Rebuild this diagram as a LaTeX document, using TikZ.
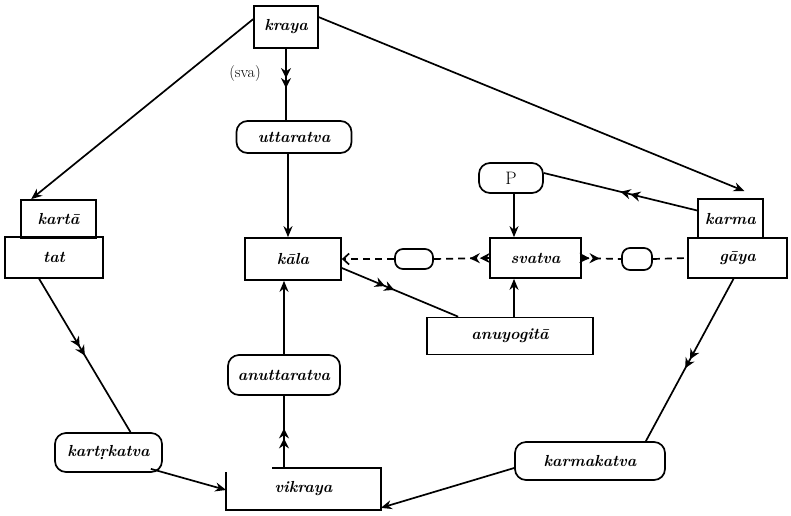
\documentclass[tikz,border=0pt]{standalone}
\usetikzlibrary{arrows.meta,decorations.markings,calc}
\begin{document}
\begin{tikzpicture}[x=1pt,y=-1pt,
  box/.style={draw, line width=1.7pt, inner sep=0pt, font=\fontsize{16}{18}\selectfont\bfseries\itshape},
  rbox/.style={box, rounded corners=11pt},
  pill/.style={draw, line width=1.7pt, rounded corners=8pt, inner sep=0pt},
  conn/.style={line width=1.7pt},
  tipend/.style={-{Stealth[length=11pt,width=9pt]}},
  dbl/.style={postaction={decorate},decoration={markings, mark=at position #1 with {\arrow{Stealth[length=10pt,width=10pt] Stealth[length=10pt,width=10pt]}}}},
  dsh/.style={line width=1.7pt, dash pattern=on 7pt off 5pt}
]
\useasboundingbox (0,0) rectangle (791,515);

% nodes
\node[box, minimum width=64pt, minimum height=42pt] (kraya) at (286,27) {kraya};
\node[font=\fontsize{16}{18}\selectfont] (sva) at (245,74) {(sva)};
\node[rbox, minimum width=115pt, minimum height=32pt] (uttara) at (294,137) {uttaratva};
\node[box, minimum width=75pt, minimum height=38pt] (karta) at (58.5,219) {kart\={a}};
\node[box, minimum width=98pt, minimum height=41pt] (tat) at (54,257.5) {tat};
\node[box, minimum width=96pt, minimum height=42pt] (kala) at (293,259) {k\={a}la};
\node[rbox, minimum width=64pt, minimum height=30pt, font=\fontsize{18}{20}\selectfont] (P) at (511,178) {P};
\node[box, minimum width=91pt, minimum height=40pt] (svatva) at (535.5,258) {svatva};
\node[pill, minimum width=38pt, minimum height=20pt] (pilla) at (414,259) {};
\node[pill, minimum width=30pt, minimum height=22pt] (pillb) at (637,259) {};
\node[box, minimum width=65pt, minimum height=39pt] (karma) at (730.5,218.5) {karma};
\node[box, minimum width=99pt, minimum height=40pt] (gaya) at (737.5,258) {g\={a}ya};
\node[box, minimum width=166pt, minimum height=37pt] (anuyo) at (510,336) {anuyogit\={a}};
\node[rbox, minimum width=112pt, minimum height=40pt] (anutt) at (284,375) {anuttaratva};
\node[box, draw=none, minimum width=153pt, minimum height=40pt] (vikraya) at (303.5,489) {vikraya};
\node[rbox, minimum width=107pt, minimum height=39pt] (kartrk) at (108.5,452.5) {kart\d{r}katva};
\node[rbox, minimum width=150pt, minimum height=38pt] (karmak) at (590,461) {karmakatva};

% vikraya open frame
\draw[conn] ($(vikraya.north west)+(46,0)$) -- (vikraya.north east) -- (vikraya.south east)
  -- (vikraya.south west) -- ($(vikraya.north west)+(0,4)$);

% connectors
\draw[conn, tipend] ($(kraya.north west)+(0,14)$) -- ($(karta.north west)+(11,0)$);
\draw[conn, dbl=0.55] (kraya.south) -- (kraya.south |- uttara.north);
\draw[conn, tipend] ($(uttara.south)+(-6,0)$) -- ($(kala.north)+(-5,0)$);
\draw[conn, tipend] ($(kraya.north east)+(0,12)$) -- ($(karma.north)+(14,-7)$);
\draw[conn, dbl=0.5] ($(karma.west)+(0,-8)$) -- ($(P.east)+(0,-5)$);
\draw[conn, tipend] ($(P.south)+(3,0)$) -- ($(svatva.north)+(-21.5,0)$);
\draw[conn, tipend] ($(anuyo.north)+(4,0)$) -- ($(svatva.south)+(-21.5,0)$);
\draw[conn, dbl=0.45] ($(kala.east)+(0,9)$) -- ($(anuyo.north west)+(32,0)$);
\draw[dsh, dbl=0.35] (svatva.west) -- (pilla.east);
\draw[dsh, -{Straight Barb[length=6pt,width=11pt]}] (pilla.west) -- (kala.east);
\draw[dsh, dbl=0.45] (svatva.east) -- (pillb.west);
\draw[dsh] (pillb.east) -- (gaya.west);
\draw[conn, dbl=0.5] ($(tat.south west)+(35,0)$) -- ($(kartrk.north)+(22,0)$);
\draw[conn, tipend] ($(kartrk.south east)+(-12,-4)$) -- ($(vikraya.west)+(0,1)$);
\draw[conn, tipend] (anutt.north) -- (anutt.north |- kala.south);
\draw[conn, dbl=0.55] (vikraya.north -| anutt.south) -- (anutt.south);
\draw[conn, dbl=0.55] ($(gaya.south)+(-4,0)$) -- ($(karmak.north east)+(-20,0)$);
\draw[conn, tipend] ($(karmak.west)+(0,7)$) -- ($(vikraya.south east)+(0,-2)$);
\end{tikzpicture}
\end{document}
